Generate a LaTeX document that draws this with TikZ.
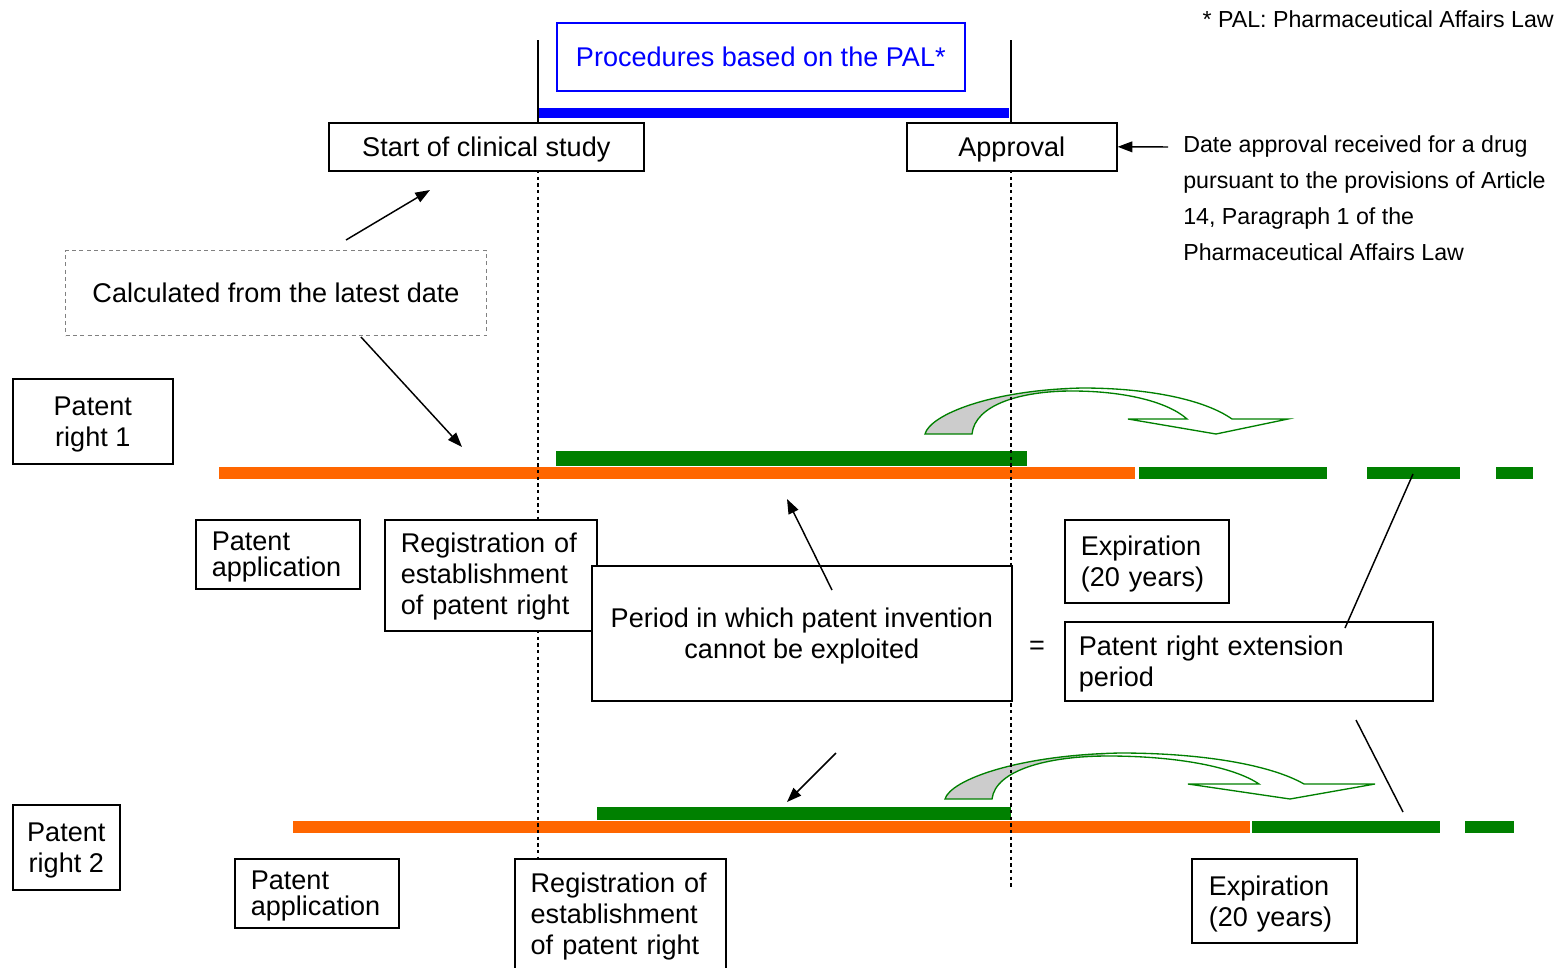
\documentclass[tikz,border=0pt]{standalone}
\usepackage{fontspec}
\setmainfont{Liberation Sans}
\usetikzlibrary{arrows.meta}
\definecolor{pblue}{RGB}{0,0,255}
\definecolor{porange}{RGB}{255,102,0}
\definecolor{pgreen}{RGB}{0,128,0}
\definecolor{pgray}{RGB}{204,204,204}
\definecolor{dgray}{RGB}{128,128,128}
\newcommand{\mainsz}{\fontsize{20.3pt}{23.25pt}\selectfont}
\newcommand{\tightsz}{\fontsize{20.3pt}{19.5pt}\selectfont}
\newcommand{\smallsz}{\fontsize{17.4pt}{27pt}\selectfont}
\def\curveone{(925,434) .. controls (930,415) and (990,390) .. (1082,388) .. controls (1150,388) and (1205,400) .. (1232,419) -- (1288,419) -- (1216,434) -- (1128,419) -- (1187,419) .. controls (1168,402) and (1125,391) .. (1072,391) .. controls (1020,391) and (975,405) .. (972,434) -- cycle}
\def\curvetwo{(945,799) .. controls (950.6,780) and (1017.5,755) .. (1120,753) .. controls (1203,753) and (1271,765) .. (1304,784) -- (1375,784) -- (1290,799) -- (1188,784) -- (1259,784) .. controls (1234,767) and (1177,756) .. (1108,756) .. controls (1048,756) and (995.5,770) .. (992,799) -- cycle}
\begin{document}
\begin{tikzpicture}[x=0.75pt,y=-0.75pt,
  box/.style={draw=black,line width=1.2pt,fill=white,inner sep=0pt,anchor=north west,font=\mainsz,align=center,text depth=0pt},
  lbox/.style={box,align=left,inner xsep=12pt,text depth=23.05pt},
  ptr/.style={line width=1.1pt,-{Triangle[length=11pt,width=8pt]}},
  plainline/.style={line width=1.1pt},
  guide/.style={line width=1.1pt,dash pattern=on 2.5pt off 2.5pt},
  bendarrow/.style={draw=pgreen,line width=1pt,line join=miter}
]
\useasboundingbox (0,0) rectangle (1561,968);

% bars
\fill[pblue] (538,108) rectangle (1009,118);
\fill[porange] (219,467) rectangle (1135,479);
\fill[pgreen] (556,451) rectangle (1027,466);
\fill[pgreen] (1139,467) rectangle (1327,479);
\fill[pgreen] (1367,467) rectangle (1460,479);
\fill[pgreen] (1496,467) rectangle (1533,479);
\fill[porange] (293,821) rectangle (1250,833);
\fill[pgreen] (597,807) rectangle (1011,820);
\fill[pgreen] (1252,821) rectangle (1440,833);
\fill[pgreen] (1465,821) rectangle (1514,833);

% curved arrows
\fill[white] \curveone;
\begin{scope}
  \clip (0,0) rectangle (1068,968);
  \fill[pgray] \curveone;
\end{scope}
\draw[bendarrow] \curveone;
\fill[white] \curvetwo;
\begin{scope}
  \clip (0,0) rectangle (1105,968);
  \fill[pgray] \curvetwo;
\end{scope}
\draw[bendarrow] \curvetwo;

% guide lines
\draw[plainline] (538,40) -- (538,122);
\draw[plainline] (1011,40) -- (1011,122);
\draw[guide] (538,170) -- (538,858);
\draw[guide] (1011,170) -- (1011,888);

% texts and boxes
\node[font=\smallsz, anchor=east, inner sep=0pt] (note) at (1554,19) {* PAL: Pharmaceutical Affairs Law};
\node[draw=pblue, line width=1.2pt, text=pblue, fill=white, anchor=north west, inner sep=0pt,
      minimum width=306pt, minimum height=51pt, font=\mainsz] (pal) at (556,22) {Procedures based on the PAL*};
\node[box, minimum width=236.25pt, minimum height=36pt] (start) at (328,122) {Start of clinical study};
\node[box, minimum width=157.5pt, minimum height=36pt] (approval) at (906,122) {Approval};
\node[font=\smallsz, align=left, anchor=west, inner sep=0pt] (datetxt) at (1183,198)
  {Date approval received for a drug\\pursuant to the provisions of Article\\14, Paragraph 1 of the\\Pharmaceutical Affairs Law};
\node[draw=dgray, dash pattern=on 3pt off 2.5pt, line width=0.8pt, fill=white, anchor=north west, inner sep=0pt,
      minimum width=315.75pt, minimum height=63.75pt, font=\mainsz] (calc) at (65,250) {Calculated from the latest date};

\node[box, minimum width=120pt, minimum height=63.75pt] (pr1) at (12,378) {Patent\\right 1};
\node[lbox, text width=99pt, minimum height=51.75pt, font=\tightsz, text depth=19.3pt] (pa1) at (195,519) {Patent\\application};
\node[lbox, text width=135pt, minimum height=83.25pt, text depth=49.3pt] (reg1) at (384,519) {Registration of\\establishment\\of patent right};
\node[box, minimum width=315pt, minimum height=101.25pt] (period) at (591,565) {Period in which patent invention\\cannot be exploited};
\node[lbox, text width=99pt, minimum height=62.25pt] (exp1) at (1064,519) {Expiration\\(20 years)};
\node[lbox, inner xsep=10.5pt, text width=255pt, minimum height=59.25pt] (ext) at (1064,621) {Patent right extension\\period};
\node[font=\mainsz, inner sep=0pt] (eq) at (1037,648) {=};

\node[box, minimum width=80.25pt, minimum height=63.75pt] (pr2) at (12,804) {Patent\\right 2};
\node[lbox, text width=99pt, minimum height=51.75pt, font=\tightsz, text depth=19.3pt] (pa2) at (234,858) {Patent\\application};
\node[lbox, text width=134.5pt, inner xsep=11.9pt, minimum height=85.5pt, text depth=49.3pt] (reg2) at (514,858) {Registration of\\establishment\\of patent right};
\node[lbox, inner xsep=12.75pt, text width=98.25pt, minimum height=63pt] (exp2) at (1191,858) {Expiration\\(20 years)};

% connectors
\coordinate (dA) at (1168,147);
\draw[ptr] (dA) -- (approval.east);
\coordinate (c1a) at (346,240);
\coordinate (c1b) at (430,190);
\draw[ptr] (c1a) -- (c1b);
\coordinate (c2a) at (361,337);
\coordinate (c2b) at (462,447);
\draw[ptr] (c2a) -- (c2b);
\coordinate (c3a) at (832,590);
\coordinate (c3b) at (787,499);
\draw[ptr] (c3a) -- (c3b);
\coordinate (c4a) at (836,753);
\coordinate (c4b) at (787,802);
\draw[ptr] (c4a) -- (c4b);
\coordinate (l1a) at (1345,628);
\coordinate (l1b) at (1413,474);
\draw[plainline] (l1a) -- (l1b);
\coordinate (l2a) at (1356,720);
\coordinate (l2b) at (1403,812);
\draw[plainline] (l2a) -- (l2b);
\end{tikzpicture}
\end{document}
